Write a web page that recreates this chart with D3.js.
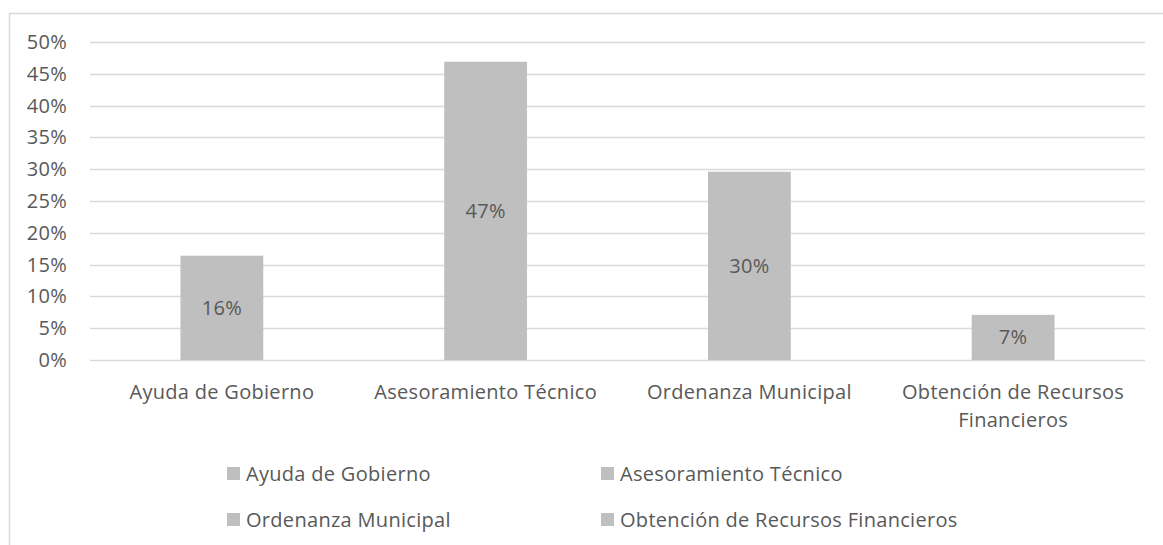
<!DOCTYPE html>
<html>
<head>
<meta charset="utf-8">
<script src="https://cdn.jsdelivr.net/npm/d3@7"></script>
<style>
  body { margin: 0; background: #fff; }
  text { font-family: "Open Sans", Lato, sans-serif; fill: #595959; letter-spacing: 0.3px; }
</style>
</head>
<body>
<svg id="chart"></svg>
<script>
// data
const categories = ["Ayuda de Gobierno", "Asesoramiento Técnico", "Ordenanza Municipal", "Obtención de Recursos Financieros"];
const values = [0.164, 0.469, 0.296, 0.071];
const valueLabels = ["16%", "47%", "30%", "7%"];
const xLabelLines = [["Ayuda de Gobierno"], ["Asesoramiento Técnico"], ["Ordenanza Municipal"], ["Obtención de Recursos", "Financieros"]];
const yTicks = [0, 0.05, 0.1, 0.15, 0.2, 0.25, 0.3, 0.35, 0.4, 0.45, 0.5];

const width = 1163;
const height = 545;
const fontSize = 20;
const barColor = "#bfbfbf";
const gridColor = "#d9d9d9";

const svg = d3.select("#chart")
  .attr("width", width)
  .attr("height", height);

// chart area border
svg.append("path")
  .attr("d", `M9.5,${height} V13.5 H${width}`)
  .attr("fill", "none")
  .attr("stroke", gridColor)
  .attr("stroke-width", 1.5);

const plotLeft = 90, plotRight = 1145, plotTop = 42, plotBottom = 360;

const x = d3.scaleBand()
  .domain(categories)
  .range([plotLeft, plotRight])
  .paddingInner(0.686)
  .paddingOuter(0.343);

const y = d3.scaleLinear()
  .domain([0, 0.5])
  .range([plotBottom, plotTop]);

// gridlines
svg.append("g")
  .selectAll("line")
  .data(yTicks)
  .join("line")
  .attr("x1", plotLeft)
  .attr("x2", plotRight)
  .attr("y1", (d) => Math.round(y(d)) + 0.5)
  .attr("y2", (d) => Math.round(y(d)) + 0.5)
  .attr("stroke", gridColor)
  .attr("stroke-width", 1.5);

// y axis labels
const yAxis = d3.axisLeft(y)
  .tickValues(yTicks)
  .tickFormat(d3.format(".0%"))
  .tickSize(0)
  .tickPadding(0);

svg.append("g")
  .attr("transform", `translate(67,0)`)
  .call(yAxis)
  .call((g) => g.select(".domain").remove())
  .selectAll("text")
  .style("font-size", fontSize + "px")
  .style("font-family", "'Open Sans', sans-serif")
  .attr("fill", "#595959");

// bars
svg.append("g")
  .selectAll("rect")
  .data(categories)
  .join("rect")
  .attr("x", (d) => x(d))
  .attr("width", x.bandwidth())
  .attr("y", (d, i) => y(values[i]))
  .attr("height", (d, i) => y(0) - y(values[i]))
  .attr("fill", barColor);

// value labels in the middle of the bars
svg.append("g")
  .selectAll("text")
  .data(categories)
  .join("text")
  .attr("x", (d) => x(d) + x.bandwidth() / 2)
  .attr("y", (d, i) => (y(values[i]) + y(0)) / 2)
  .attr("dy", "0.35em")
  .attr("text-anchor", "middle")
  .style("font-size", fontSize + "px")
  .text((d, i) => valueLabels[i]);

// category labels
const xLab = svg.append("g")
  .selectAll("text")
  .data(categories)
  .join("text")
  .attr("x", (d) => x(d) + x.bandwidth() / 2)
  .attr("y", 399)
  .attr("text-anchor", "middle")
  .style("font-size", fontSize + "px");

xLab.selectAll("tspan")
  .data((d, i) => xLabelLines[i])
  .join("tspan")
  .attr("x", function () { return this.parentNode.getAttribute("x"); })
  .attr("dy", (d, j) => j === 0 ? 0 : 28)
  .text((d) => d);

// legend
const legendCols = [227, 601];
const legendRows = [474, 520];

const legend = svg.append("g")
  .selectAll("g")
  .data(categories)
  .join("g")
  .attr("transform", (d, i) => `translate(${legendCols[i % 2]}, ${legendRows[Math.floor(i / 2)]})`);

legend.append("rect")
  .attr("x", 0)
  .attr("y", -7)
  .attr("width", 13)
  .attr("height", 13)
  .attr("fill", barColor);

legend.append("text")
  .attr("x", 19)
  .attr("dy", "0.35em")
  .style("font-size", fontSize + "px")
  .text((d) => d);
</script>
</body>
</html>
